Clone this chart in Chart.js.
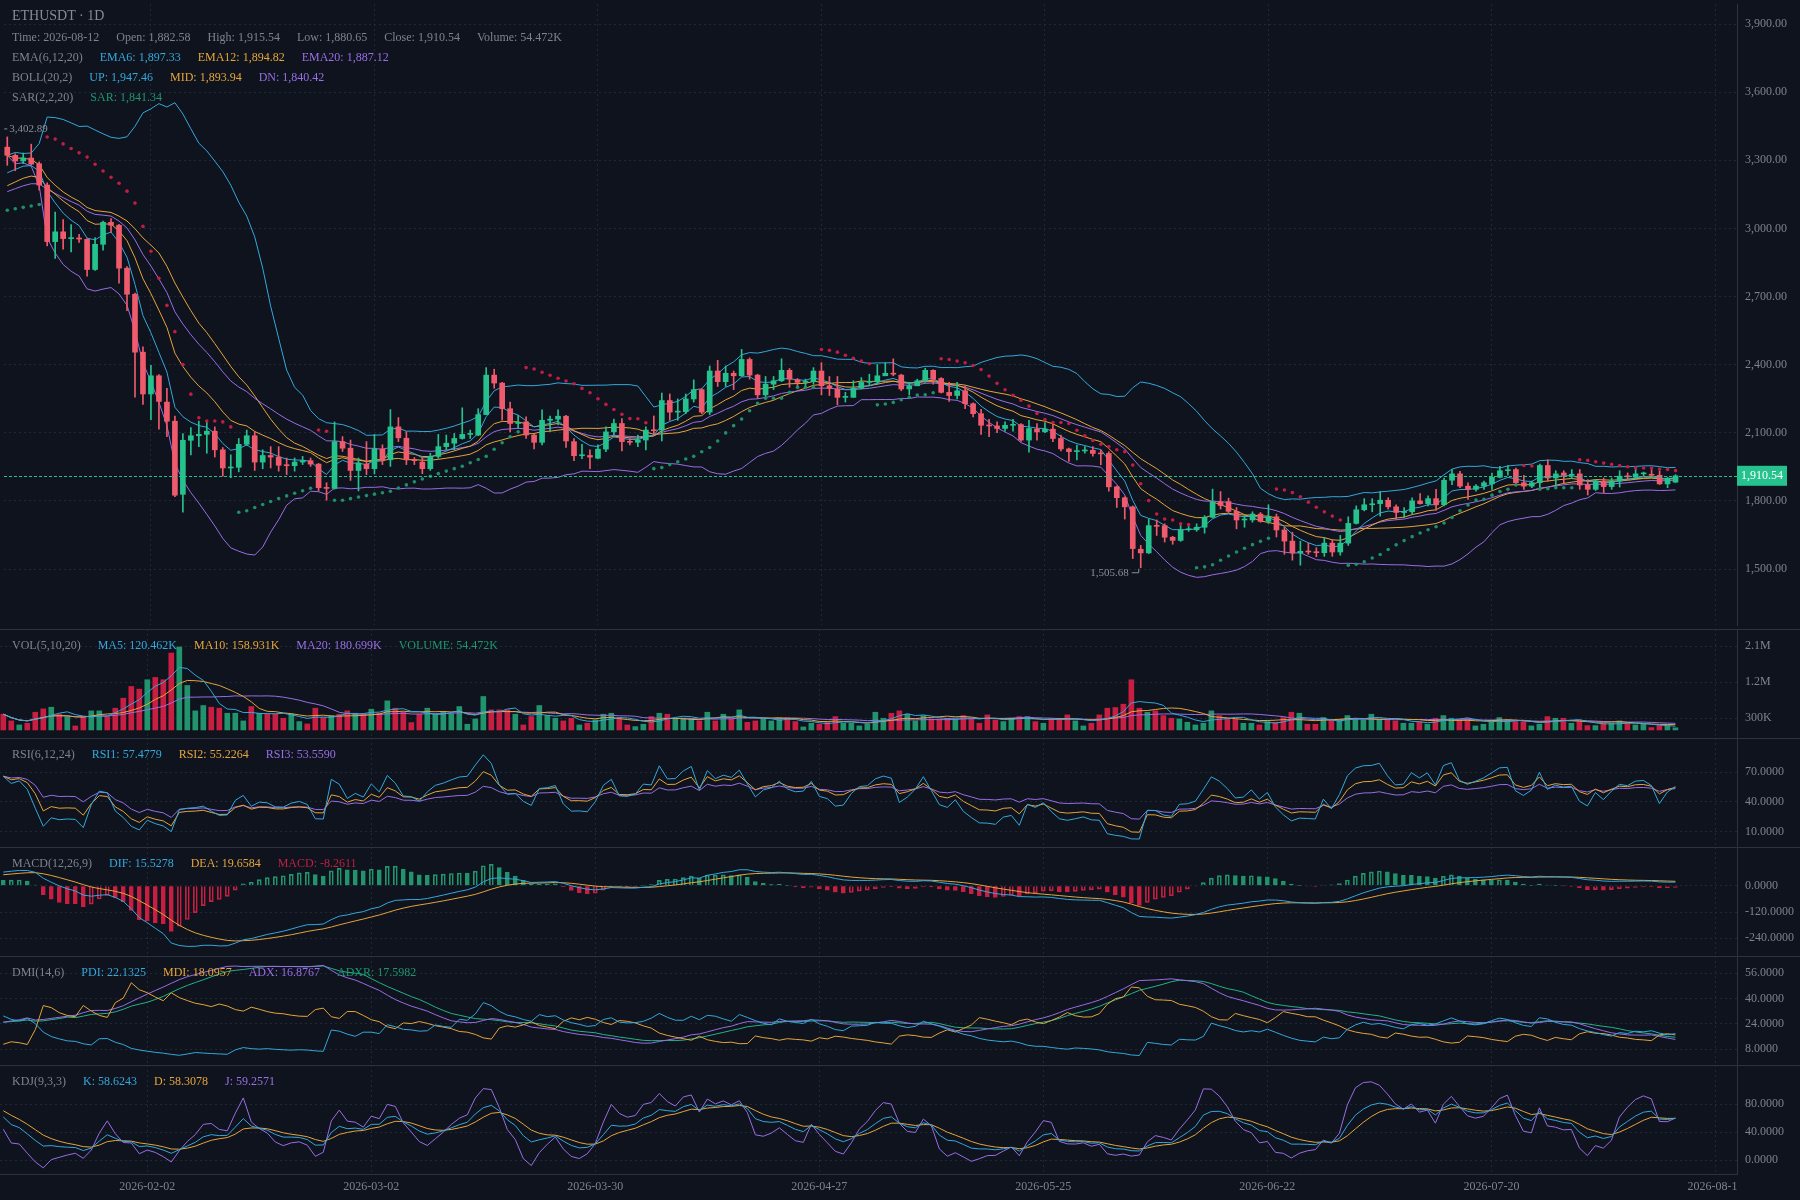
<!DOCTYPE html>
<html>
<head>
<meta charset="utf-8">
<script src="https://cdn.jsdelivr.net/npm/chart.js@4.4.1/dist/chart.umd.min.js"></script>
<style>
  html, body { margin: 0; padding: 0; background: #0e131d; }
  #wrap { position: relative; width: 1800px; height: 1200px; overflow: hidden; background: #0e131d;
          font-family: "Liberation Serif", "DejaVu Serif", serif; }
  #wrap canvas { position: absolute; left: 0; }
  .row { position: absolute; left: 12px; display: flex; gap: 17px; font-size: 12px; line-height: 14px;
         white-space: nowrap; color: #7d8491; z-index: 2; }
  .row.title { font-size: 14px; line-height: 16px; color: #858c98; }
</style>
</head>
<body>
<div id="wrap">
  <canvas id="cMain" width="1800" height="629" style="top:0px"></canvas>
  <canvas id="cVol" width="1800" height="109" style="top:629px"></canvas>
  <canvas id="cRsi" width="1800" height="109" style="top:738px"></canvas>
  <canvas id="cMacd" width="1800" height="109" style="top:847px"></canvas>
  <canvas id="cDmi" width="1800" height="109" style="top:956px"></canvas>
  <canvas id="cKdj" width="1800" height="135" style="top:1065px"></canvas>
</div>
<script>
// ---- data (ETHUSDT daily, first candle 2026-01-15) ----
const dateTicks = [18, 46, 74, 102, 130, 158, 186, 214];
const dateTickLabels = ['2026-02-02', '2026-03-02', '2026-03-30', '2026-04-27', '2026-05-25', '2026-06-22', '2026-07-20', '2026-08-17'];

const opens = [
  3358,3322,3297,3310,3285,3191,2942,2985,2955,2958, 2952,2819,2930,3027,3014,2825,2710,2455,2271,2351,
  2235,2151,1829,2067,2087,2093,2107,2025,1945,1948, 2049,2087,1971,2000,1993,1957,1955,1971,1977,1962,
  1858,1855,2061,2032,1934,1962,1942,2029,1981,2126, 2076,1981,1971,1942,1996,2039,2054,2075,2093,2090,
  2180,2354,2319,2206,2141,2148,2090,2058,2155,2160, 2173,2061,1999,2000,1988,2028,2104,2141,2061,2058,
  2068,2112,2112,2242,2191,2193,2249,2290,2191,2372, 2325,2362,2351,2423,2354,2267,2314,2329,2375,2333,
  2322,2325,2372,2307,2293,2256,2256,2296,2322,2325, 2351,2362,2354,2293,2307,2329,2375,2339,2278,2264,
  2285,2228,2184,2133,2130,2119,2133,2136,2068,2116, 2104,2116,2075,2029,2017,2020,2023,2009,2009,1862,
  1814,1774,1587,1571,1691,1691,1640,1626,1673,1673, 1684,1728,1795,1797,1754,1716,1716,1742,1710,1730,
  1672,1623,1571,1578,1575,1572,1614,1575,1614,1701, 1761,1783,1788,1803,1774,1749,1752,1800,1788,1810,
  1783,1891,1919,1865,1851,1865,1875,1904,1933,1938, 1880,1865,1880,1956,1901,1923,1913,1919,1870,1851,
  1887,1863,1887,1909,1904,1919,1916,1913,1875,1882.58
];
const highs = [
  3402.89,3329,3332,3371,3293,3201,3072,3039,3017,2974, 2955,2960,3032,3043,3018,2832,2715,2478,2397,2356,
  2296,2174,2097,2123,2152,2148,2126,2035,2003,2075, 2112,2105,2025,2039,2039,1989,1989,1996,1989,1965,
  1880,2148,2083,2068,1989,2061,2093,2047,2202,2167, 2105,1991,1991,2010,2093,2090,2097,2210,2112,2206,
  2387,2380,2322,2235,2177,2170,2094,2201,2174,2201, 2177,2075,2049,2025,2047,2126,2160,2162,2075,2090,
  2126,2174,2275,2271,2249,2271,2333,2294,2394,2419, 2394,2372,2467,2430,2358,2348,2348,2426,2383,2339,
  2336,2387,2409,2348,2348,2278,2329,2343,2358,2401, 2409,2426,2358,2322,2336,2384,2378,2343,2322,2322,
  2307,2232,2203,2159,2148,2148,2159,2141,2155,2141, 2145,2141,2090,2033,2046,2039,2039,2025,2017,1866,
  1818,1778,1604,1720,1716,1699,1644,1696,1696,1699, 1735,1852,1841,1812,1771,1735,1752,1749,1783,1742,
  1684,1662,1623,1614,1594,1638,1629,1648,1730,1778, 1810,1810,1841,1814,1783,1771,1814,1832,1822,1851,
  1901,1938,1930,1880,1872,1887,1923,1952,1956,1945, 1913,1887,1962,1981,1933,1933,1938,1938,1894,1894,
  1901,1901,1933,1923,1945,1927,1938,1933,1904,1915.54
];
const lows = [
  3278,3254,3285,3280,3169,2923,2868,2909,2897,2938, 2790,2815,2904,2981,2759,2638,2257,2225,2158,2116,
  2083,1819,1750,2003,2039,2010,1993,1909,1902,1928, 2045,1934,1942,1945,1931,1916,1931,1960,1952,1844,
  1803,1852,2018,1890,1844,1916,1919,1960,1952,2061, 1960,1960,1920,1934,1988,2025,2025,2072,2075,2087,
  2180,2296,2155,2104,2119,2075,2029,2047,2107,2136, 2035,1977,1986,1942,1986,2017,2090,2020,2047,2039,
  2025,2090,2064,2155,2155,2184,2235,2184,2180,2304, 2304,2290,2348,2336,2252,2252,2290,2325,2300,2300,
  2304,2314,2267,2264,2223,2235,2256,2293,2307,2314, 2351,2351,2285,2267,2307,2322,2314,2275,2238,2249,
  2206,2170,2093,2083,2101,2107,2107,2062,2015,2068, 2101,2061,2020,1974,1981,2010,1997,1959,1843,1771,
  1720,1546,1505.68,1568,1648,1619,1609,1622,1666,1666, 1658,1726,1764,1749,1677,1684,1706,1706,1701,1641,
  1565,1539,1517,1565,1554,1556,1556,1561,1604,1698, 1756,1752,1733,1764,1720,1727,1742,1786,1778,1759,
  1778,1872,1858,1807,1843,1851,1851,1901,1913,1872, 1851,1858,1858,1887,1858,1880,1898,1851,1826,1846,
  1836,1851,1861,1894,1894,1909,1909,1872,1858,1880.65
];
const closes = [
  3322,3297,3310,3283,3191,2942,2985,2955,2958,2953, 2819,2930,3027,3014,2825,2710,2455,2271,2351,2238,
  2151,1825,2067,2087,2093,2107,2025,1945,1948,2049, 2087,1971,2000,1993,1957,1955,1971,1977,1962,1858,
  1855,2061,2032,1934,1967,1942,2029,1981,2126,2078, 1981,1977,1942,1996,2039,2054,2075,2093,2097,2180,
  2354,2319,2206,2141,2145,2090,2058,2155,2160,2173, 2064,1999,2000,1993,2028,2104,2141,2061,2058,2068,
  2112,2109,2242,2191,2193,2249,2290,2191,2372,2325, 2362,2351,2423,2354,2267,2314,2329,2375,2336,2322,
  2325,2372,2307,2296,2256,2259,2296,2322,2325,2351, 2362,2358,2293,2307,2329,2375,2336,2278,2264,2285,
  2228,2184,2133,2130,2119,2133,2136,2068,2119,2104, 2116,2075,2029,2017,2020,2023,2009,2007,1862,1814,
  1774,1590,1571,1691,1688,1640,1626,1673,1675,1684, 1728,1795,1780,1754,1716,1719,1742,1710,1730,1672,
  1623,1571,1578,1575,1572,1614,1575,1614,1701,1761, 1783,1786,1803,1774,1749,1752,1800,1788,1810,1783,
  1891,1919,1865,1851,1865,1880,1904,1933,1936,1880, 1865,1880,1956,1901,1919,1913,1916,1870,1851,1887,
  1863,1887,1909,1906,1919,1921,1913,1875,1898,1910.54
];
// volume in thousands
const volumes = [
  395,227,126,168,445,529,571,395,336,101, 336,479,479,336,546,798,1092,1025,1260,1319,
  1260,1932,2083,1117,479,613,571,546,420,420, 227,588,420,395,395,294,395,210,151,546,
  311,361,395,479,420,395,521,420,731,546, 445,185,395,546,395,462,395,588,143,277,
  840,504,504,504,395,126,336,613,361,294, 227,294,126,168,252,395,420,311,126,84,
  143,336,420,395,277,294,277,227,445,227, 395,277,504,193,227,277,227,294,311,210,
  76,168,143,193,336,168,168,101,143,445, 294,420,479,395,227,361,277,277,294,277,
  361,294,168,378,252,210,294,336,336,210, 168,294,294,378,227,101,168,378,546,563,
  647,1260,546,445,479,361,294,277,193,126, 168,479,361,294,277,168,168,126,210,193,
  311,445,420,143,143,311,252,252,361,277, 252,395,277,252,227,168,168,210,143,294,
  361,294,277,294,101,143,227,311,252,210, 210,101,143,336,294,294,168,210,109,109,
  168,168,227,168,126,143,59,109,109,54.472
];

const priceTicks = [1500, 1800, 2100, 2400, 2700, 3000, 3300, 3600, 3900];
const volTicks = [300, 1200, 2100];
const rsiTicks = [10, 40, 70];
const macdTicks = [-240, -120, 0];
const dmiTicks = [8, 24, 40, 56];
const kdjTicks = [0, 40, 80];

const ema6Start = 3245, ema12Start = 3188, ema20Start = 3162, ema26Start = 3126, deaStart = 50;
const sarStart = 3080, rsiStart = 66, kdjStart = 75;
const trStart = 70, pdiStart = 29, mdiStart = 11, adxStart = 25;

// ---- look ----
const FONT = '"Liberation Serif", "DejaVu Serif", serif';
const BG = '#0e131d';
const GRID = '#202735';
const AXIS = '#2c3340';
const TICK = '#7c8390';
const CYAN = '#35a8dd';
const ORANGE = '#e6a53c';
const PURPLE = '#9a6ee6';
const TEAL = '#1f966e';
const UP = '#25c28e';
const DOWN = '#ef5a6c';
const VOL_UP = '#22946d';
const VOL_DOWN = '#c81e41';
const X_MIN = -0.41, X_MAX = 216.7;

// ---- indicators ----
const N = closes.length;
const idx = closes.map((_, i) => i);

function ema(src, n, start) {
  const out = [start];
  for (let i = 1; i < src.length; i++) out.push((2 * src[i] + (n - 1) * out[i - 1]) / (n + 1));
  return out;
}
function ma(src, n) {
  return src.map((_, i) => {
    const w = src.slice(Math.max(0, i - n + 1), i + 1);
    return w.reduce((s, v) => s + v, 0) / w.length;
  });
}
function boll(src, n, k) {
  const mid = ma(src, n), up = [], dn = [];
  src.forEach((_, i) => {
    const w = src.slice(Math.max(0, i - n + 1), i + 1);
    const sd = Math.sqrt(w.reduce((s, v) => s + (v - mid[i]) ** 2, 0) / w.length);
    up.push(mid[i] + k * sd); dn.push(mid[i] - k * sd);
  });
  return { mid, up, dn };
}
function rsi(n) {
  let u = rsiStart / 100 * 40, d = (100 - rsiStart) / 100 * 40;
  const out = [rsiStart];
  for (let i = 1; i < N; i++) {
    const ch = closes[i] - closes[i - 1];
    u = (Math.max(ch, 0) + (n - 1) * u) / n;
    d = (Math.max(-ch, 0) + (n - 1) * d) / n;
    out.push(u / (u + d) * 100);
  }
  return out;
}
function kdj() {
  let k = kdjStart, d = kdjStart;
  const K = [], D = [], J = [];
  for (let i = 0; i < N; i++) {
    const a = Math.max(0, i - 8);
    const hh = Math.max(...highs.slice(a, i + 1)), ll = Math.min(...lows.slice(a, i + 1));
    const rsv = hh === ll ? 50 : (closes[i] - ll) / (hh - ll) * 100;
    k = (2 * k + rsv) / 3; d = (2 * d + k) / 3;
    K.push(k); D.push(d); J.push(3 * k - 2 * d);
  }
  return { K, D, J };
}
// Wilder smoothed DMI
function dmi(n, m) {
  let mtr = n * trStart, dmp = mtr * pdiStart / 100, dmm = mtr * mdiStart / 100, adx = adxStart;
  const pdi = [], mdi = [], adxs = [], adxr = [];
  for (let i = 0; i < N; i++) {
    if (i > 0) {
      const tr = Math.max(highs[i] - lows[i], Math.abs(highs[i] - closes[i - 1]), Math.abs(lows[i] - closes[i - 1]));
      const hd = highs[i] - highs[i - 1], ld = lows[i - 1] - lows[i];
      mtr = mtr - mtr / n + tr;
      dmp = dmp - dmp / n + (hd > 0 && hd > ld ? hd : 0);
      dmm = dmm - dmm / n + (ld > 0 && ld > hd ? ld : 0);
    }
    const p = dmp * 100 / mtr, q = dmm * 100 / mtr;
    pdi.push(p); mdi.push(q);
    if (i > 0) {
      const dx = p + q ? Math.abs(q - p) / (p + q) * 100 : 0;
      adx = (adx * (n - 1) + dx) / n;
    }
    adxs.push(adx);
    adxr.push((adx + (i >= m - 1 ? adxs[i - m + 1] : adxStart)) / 2);
  }
  return { pdi, mdi, adx: adxs, adxr };
}
function sar() {
  let up = true, s = sarStart, ep = highs[0], af = 0.02;
  const val = [s], isUp = [true];
  for (let i = 1; i < N; i++) {
    let nx = s + af * (ep - s);
    if (up) {
      nx = Math.min(nx, lows[i - 1], lows[Math.max(0, i - 2)]);
      if (lows[i] < nx) { up = false; nx = ep; ep = lows[i]; af = 0.02; }
      else if (highs[i] > ep) { ep = highs[i]; af = Math.min(af + 0.02, 0.2); }
    } else {
      nx = Math.max(nx, highs[i - 1], highs[Math.max(0, i - 2)]);
      if (highs[i] > nx) { up = true; nx = ep; ep = highs[i]; af = 0.02; }
      else if (lows[i] < ep) { ep = lows[i]; af = Math.min(af + 0.02, 0.2); }
    }
    s = nx; val.push(s); isUp.push(up);
  }
  return { val, isUp };
}

const ema6 = ema(closes, 6, ema6Start);
const ema12 = ema(closes, 12, ema12Start);
const ema20 = ema(closes, 20, ema20Start);
const ema26 = ema(closes, 26, ema26Start);
const bb = boll(closes, 20, 2);
const sr = sar();
const dif = ema12.map((v, i) => v - ema26[i]);
const dea = ema(dif, 9, deaStart);
const macd = dif.map((v, i) => (v - dea[i]) * 2);
const rsi1 = rsi(6), rsi2 = rsi(12), rsi3 = rsi(24);
const kd = kdj();
const dm = dmi(14, 6);
const volMa5 = ma(volumes, 5), volMa10 = ma(volumes, 10), volMa20 = ma(volumes, 20);

const rising = idx.map(i => closes[i] >= opens[i]);
const pts = arr => arr.map((v, i) => ({ x: i, y: v }));
const line = (arr, color, order) => ({
  type: 'line', data: pts(arr), borderColor: color, borderWidth: 1, pointRadius: 0, tension: 0, order: order || 1
});

// ---- helpers ----
function fmtPrice(v) { return v.toFixed(2).replace(/\B(?=(\d{3})+(?!\d))/g, ','); }

function panelOptions(yMin, yMax, yTicks, yFmt, showX) {
  return {
    responsive: false, animation: false, events: [],
    layout: { padding: 0 },
    plugins: { legend: { display: false }, tooltip: { enabled: false } },
    scales: {
      x: {
        type: 'linear', min: X_MIN, max: X_MAX, offset: false,
        afterBuildTicks: s => { s.ticks = dateTicks.map(v => ({ value: v })); },
        afterFit: s => { s.height = showX ? 26 : 0; s.paddingLeft = 0; s.paddingRight = 0; },
        grid: { color: GRID, drawTicks: false, offset: false },
        border: { display: showX, color: AXIS, dash: [2, 3] },
        ticks: {
          display: showX, maxRotation: 0, autoSkip: false, padding: 6, color: TICK,
          font: { family: FONT, size: 12 },
          callback: v => dateTickLabels[dateTicks.indexOf(v)]
        }
      },
      y: {
        position: 'right', min: yMin, max: yMax,
        afterBuildTicks: s => { s.ticks = yTicks.map(v => ({ value: v })); },
        afterFit: s => { s.width = 63; s.paddingTop = 0; s.paddingBottom = 0; },
        grid: { color: GRID, drawTicks: false },
        border: { display: true, color: AXIS, dash: [2, 3] },
        ticks: { padding: 8, color: TICK, font: { family: FONT, size: 12 }, callback: yFmt }
      }
    }
  };
}

const topLine = {
  id: 'topLine',
  afterDraw(chart) {
    const c = chart.ctx;
    c.save(); c.strokeStyle = AXIS; c.lineWidth = 1;
    c.beginPath(); c.moveTo(0, 0.5); c.lineTo(chart.width, 0.5); c.stroke();
    c.restore();
  }
};

// last price line, tag and high / low marks on the main panel
const priceMarks = {
  id: 'priceMarks',
  afterDatasetsDraw(chart) {
    const c = chart.ctx, xs = chart.scales.x, ys = chart.scales.y, a = chart.chartArea;
    const last = closes[N - 1];
    const y = Math.round(ys.getPixelForValue(last)) + 0.5;
    c.save();
    c.strokeStyle = UP; c.lineWidth = 1; c.setLineDash([3, 2]);
    c.beginPath(); c.moveTo(a.left, y); c.lineTo(a.right, y); c.stroke();
    c.setLineDash([]);
    c.fillStyle = '#8a909b'; c.strokeStyle = '#8a909b';
    c.font = '11px ' + FONT; c.textBaseline = 'middle';
    const hi = highs.indexOf(Math.max(...highs));
    const hx = xs.getPixelForValue(hi), hy = ys.getPixelForValue(highs[hi]);
    c.beginPath(); c.moveTo(hx - 3, hy - 8); c.lineTo(hx, hy - 8); c.stroke();
    c.textAlign = 'left'; c.fillText(fmtPrice(highs[hi]), hx + 2, hy - 8);
    const lo = lows.indexOf(Math.min(...lows));
    const lx = xs.getPixelForValue(lo), ly = ys.getPixelForValue(lows[lo]);
    c.beginPath(); c.moveTo(lx - 9, ly + 5); c.lineTo(lx - 2, ly + 5); c.lineTo(lx - 2, ly + 1); c.stroke();
    c.textAlign = 'right'; c.fillText(fmtPrice(lows[lo]), lx - 12, ly + 5);
    c.restore();
  },
  afterDraw(chart) {
    const c = chart.ctx, ys = chart.scales.y, a = chart.chartArea;
    const y = ys.getPixelForValue(closes[N - 1]);
    c.save();
    c.fillStyle = UP;
    c.fillRect(a.right, y - 10, 50, 20);
    c.fillStyle = '#ffffff'; c.font = '12px ' + FONT;
    c.textAlign = 'center'; c.textBaseline = 'middle';
    c.fillText(fmtPrice(closes[N - 1]), a.right + 25, y + 0.5);
    c.restore();
  }
};

const clipCorner = {
  id: 'clipCorner',
  afterDraw(chart) {
    const a = chart.chartArea, c = chart.ctx;
    c.save(); c.fillStyle = BG;
    c.fillRect(a.right + 0.5, a.bottom + 1, chart.width - a.right, chart.height - a.bottom);
    c.restore();
  }
};

// ---- main price panel ----
new Chart(document.getElementById('cMain'), {
  type: 'line',
  data: {
    datasets: [
      { type: 'bar', data: idx.map(i => ({ x: i, y: [lows[i], highs[i]] })), grouped: false,
        backgroundColor: idx.map(i => rising[i] ? UP : DOWN), barThickness: 1, minBarLength: 1, order: 4 },
      { type: 'bar', data: idx.map(i => ({ x: i, y: [opens[i], closes[i]] })), grouped: false,
        backgroundColor: idx.map(i => rising[i] ? UP : DOWN), barThickness: 5, minBarLength: 1, order: 3 },
      line(ema6, CYAN, 5), line(ema12, ORANGE, 5), line(ema20, PURPLE, 5),
      line(bb.up, CYAN, 5), line(bb.mid, ORANGE, 5), line(bb.dn, PURPLE, 5),
      { type: 'line', data: pts(sr.val), showLine: false, pointRadius: 1.8, pointBorderWidth: 0,
        pointBackgroundColor: sr.isUp.map(u => u ? '#1f8f68' : '#c41d45'), order: 2 }
    ]
  },
  options: panelOptions(1253.5, 3988.3, priceTicks, v => fmtPrice(v), false),
  plugins: [priceMarks]
});

// ---- volume ----
new Chart(document.getElementById('cVol'), {
  type: 'line',
  data: {
    datasets: [
      { type: 'bar', data: pts(volumes), grouped: false, barThickness: 5, order: 3,
        backgroundColor: idx.map(i => rising[i] ? VOL_UP : VOL_DOWN) },
      line(volMa5, CYAN), line(volMa10, ORANGE), line(volMa20, PURPLE)
    ]
  },
  options: panelOptions(-202, 2534.5, volTicks, v => v >= 1000 ? (v / 1000).toFixed(1) + 'M' : v + 'K', false),
  plugins: [topLine]
});

// ---- RSI ----
new Chart(document.getElementById('cRsi'), {
  type: 'line',
  data: { datasets: [line(rsi1, CYAN), line(rsi2, ORANGE), line(rsi3, PURPLE)] },
  options: panelOptions(-5.45, 104.6, rsiTicks, v => v.toFixed(4), false),
  plugins: [topLine]
});

// ---- MACD ----
new Chart(document.getElementById('cMacd'), {
  type: 'line',
  data: {
    datasets: [
      { type: 'bar', data: pts(macd), grouped: false, barThickness: 4, order: 3, borderWidth: 1,
        borderColor: macd.map(v => v >= 0 ? VOL_UP : VOL_DOWN),
        backgroundColor: macd.map((v, i) => (i > 0 && v >= macd[i - 1]) ? 'rgba(0,0,0,0)' : (v >= 0 ? VOL_UP : VOL_DOWN)) },
      line(dif, CYAN), line(dea, ORANGE)
    ]
  },
  options: panelOptions(-320.7, 176.6, macdTicks, v => v.toFixed(4), false),
  plugins: [topLine]
});

// ---- DMI ----
new Chart(document.getElementById('cDmi'), {
  type: 'line',
  data: { datasets: [line(dm.pdi, CYAN), line(dm.mdi, ORANGE), line(dm.adx, PURPLE), line(dm.adxr, '#22b487')] },
  options: panelOptions(-2.15, 67.0, dmiTicks, v => v.toFixed(4), false),
  plugins: [topLine]
});

// ---- KDJ + date axis ----
new Chart(document.getElementById('cKdj'), {
  type: 'line',
  data: { datasets: [line(kd.K, CYAN), line(kd.D, ORANGE), line(kd.J, PURPLE)] },
  options: panelOptions(-20, 136.1, kdjTicks, v => v.toFixed(4), true),
  plugins: [topLine, clipCorner]
});

// ---- legends ----
const G = '#7d8491';
const legendRows = [
  [16, [['ETHUSDT · 1D', '#858c98']], true],
  [37, [['Time: 2026-08-12', G], ['Open: 1,882.58', G], ['High: 1,915.54', G], ['Low: 1,880.65', G], ['Close: 1,910.54', G], ['Volume: 54.472K', G]]],
  [57, [['EMA(6,12,20)', G], ['EMA6: 1,897.33', CYAN], ['EMA12: 1,894.82', ORANGE], ['EMA20: 1,887.12', PURPLE]]],
  [77, [['BOLL(20,2)', G], ['UP: 1,947.46', CYAN], ['MID: 1,893.94', ORANGE], ['DN: 1,840.42', PURPLE]]],
  [97, [['SAR(2,2,20)', G], ['SAR: 1,841.34', TEAL]]],
  [644.5, [['VOL(5,10,20)', G], ['MA5: 120.462K', CYAN], ['MA10: 158.931K', ORANGE], ['MA20: 180.699K', PURPLE], ['VOLUME: 54.472K', TEAL]]],
  [753.5, [['RSI(6,12,24)', G], ['RSI1: 57.4779', CYAN], ['RSI2: 55.2264', ORANGE], ['RSI3: 53.5590', PURPLE]]],
  [862.5, [['MACD(12,26,9)', G], ['DIF: 15.5278', CYAN], ['DEA: 19.6584', ORANGE], ['MACD: -8.2611', '#c21f43']]],
  [971.5, [['DMI(14,6)', G], ['PDI: 22.1325', CYAN], ['MDI: 18.0957', ORANGE], ['ADX: 16.8767', PURPLE], ['ADXR: 17.5982', TEAL]]],
  [1080.5, [['KDJ(9,3,3)', G], ['K: 58.6243', CYAN], ['D: 58.3078', ORANGE], ['J: 59.2571', PURPLE]]]
];
const wrap = document.getElementById('wrap');
legendRows.forEach(([cy, items, isTitle]) => {
  const row = document.createElement('div');
  row.className = isTitle ? 'row title' : 'row';
  row.style.top = (cy - (isTitle ? 8 : 7)) + 'px';
  items.forEach(([t, col]) => {
    const s = document.createElement('span');
    s.textContent = t; s.style.color = col;
    row.appendChild(s);
  });
  wrap.appendChild(row);
});
</script>
</body>
</html>
